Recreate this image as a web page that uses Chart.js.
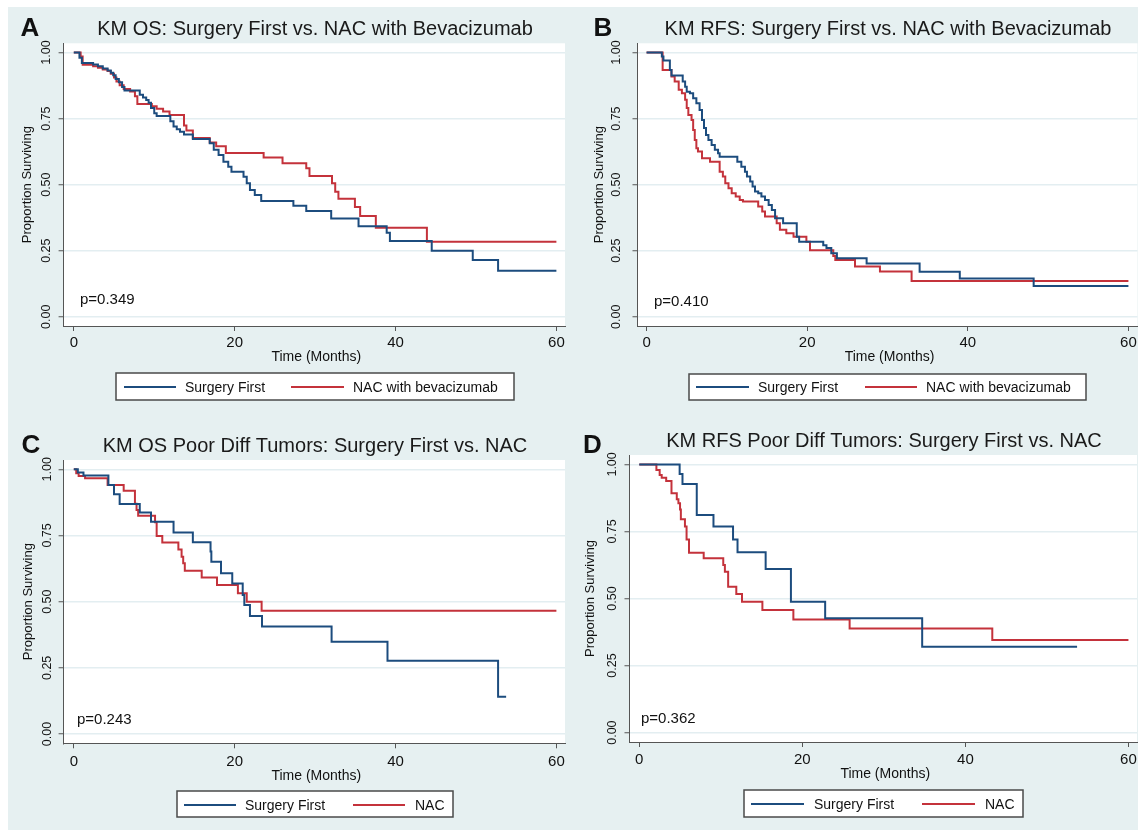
<!DOCTYPE html>
<html>
<head>
<meta charset="utf-8">
<script src="https://cdn.jsdelivr.net/npm/chart.js@4.4.1/dist/chart.umd.min.js"></script>
<style>
  html, body { margin: 0; padding: 0; background: #fff; }
  #fig { position: relative; width: 1142px; height: 830px; overflow: hidden; }
  #bg { position: absolute; left: 8px; top: 7px; width: 1130px; height: 823px; background: #e6f0f1; }
  canvas { position: absolute; }
</style>
</head>
<body>
<div id="fig"><div id="bg"></div></div>
<script>
// ---- data (time in months, proportion surviving) ----
const xTicks = [0, 20, 40, 60];
const yTicks = [0, 0.25, 0.5, 0.75, 1];
const yTickLabels = ['0.00', '0.25', '0.50', '0.75', '1.00'];

const titles = [
  'KM OS: Surgery First vs. NAC with Bevacizumab',
  'KM RFS: Surgery First vs. NAC with Bevacizumab',
  'KM OS Poor Diff Tumors: Surgery First vs. NAC',
  'KM RFS Poor Diff Tumors: Surgery First vs. NAC'
];
const letters = ['A', 'B', 'C', 'D'];
const pValues = ['p=0.349', 'p=0.410', 'p=0.243', 'p=0.362'];
const legendBev = ['Surgery First', 'NAC with bevacizumab'];
const legendNac = ['Surgery First', 'NAC'];

// A: overall survival, bevacizumab cohort
const osSfT = [0, 0.7, 1.0, 2.4, 3.0, 3.6, 4.2, 4.6, 4.9, 5.2, 5.6, 6.0, 6.3, 8.2, 8.6, 9.0, 9.3, 9.6, 10.0, 10.3, 12.0, 12.4, 12.8, 13.2, 13.7, 14.8, 16.9, 17.4, 18.0, 18.6, 19.2, 19.6, 21.1, 21.5, 21.9, 22.5, 23.3, 27.3, 28.9, 32.0, 35.4, 38.9, 39.3, 44.5, 49.6, 52.75, 60];
const osSfS = [1, 0.98, 0.96, 0.955, 0.948, 0.94, 0.932, 0.924, 0.914, 0.90, 0.888, 0.87, 0.856, 0.84, 0.83, 0.82, 0.81, 0.79, 0.77, 0.76, 0.74, 0.72, 0.71, 0.70, 0.69, 0.673, 0.657, 0.632, 0.612, 0.587, 0.568, 0.549, 0.53, 0.505, 0.48, 0.461, 0.438, 0.42, 0.40, 0.372, 0.343, 0.318, 0.287, 0.25, 0.215, 0.174, 0.174];
const osNacT = [0, 0.85, 1.1, 2.4, 3.0, 3.6, 4.2, 4.6, 5.0, 5.3, 5.7, 6.2, 7.0, 7.6, 7.9, 9.7, 10.3, 11.1, 11.9, 13.7, 14.0, 14.8, 16.9, 17.7, 18.9, 23.6, 25.95, 28.9, 29.3, 32.1, 32.5, 32.9, 34.95, 35.6, 37.55, 43.9, 60];
const osNacS = [1, 0.985, 0.954, 0.948, 0.942, 0.936, 0.93, 0.92, 0.906, 0.89, 0.876, 0.862, 0.853, 0.835, 0.805, 0.797, 0.787, 0.777, 0.764, 0.724, 0.705, 0.677, 0.66, 0.645, 0.62, 0.603, 0.581, 0.562, 0.533, 0.505, 0.473, 0.447, 0.415, 0.381, 0.337, 0.284, 0.284];

// B: recurrence-free survival, bevacizumab cohort
const rfsSfT = [0, 1.9, 2.1, 2.9, 3.1, 4.5, 4.8, 5.0, 5.4, 5.8, 6.2, 6.6, 6.9, 7.15, 7.4, 7.7, 8.1, 8.5, 8.9, 9.1, 11.3, 11.8, 12.25, 12.5, 12.9, 13.2, 13.5, 13.9, 14.3, 14.75, 15.2, 15.6, 16.0, 17.0, 18.7, 19.0, 22.0, 22.4, 23.0, 23.7, 27.4, 34.0, 39.0, 48.2, 60];
const rfsSfS = [1, 0.985, 0.97, 0.934, 0.913, 0.89, 0.871, 0.852, 0.846, 0.827, 0.808, 0.783, 0.745, 0.714, 0.688, 0.669, 0.65, 0.632, 0.619, 0.606, 0.587, 0.568, 0.549, 0.531, 0.512, 0.493, 0.474, 0.467, 0.455, 0.442, 0.423, 0.404, 0.373, 0.354, 0.303, 0.284, 0.271, 0.26, 0.24, 0.221, 0.202, 0.17, 0.145, 0.116, 0.116];
const rfsNacT = [0, 2.0, 3.1, 3.5, 4.0, 4.4, 4.8, 5.0, 5.2, 5.6, 5.8, 6.0, 6.2, 6.4, 6.9, 7.9, 9.1, 9.5, 9.8, 10.2, 10.6, 11.1, 11.6, 12.0, 13.9, 14.4, 14.75, 16.2, 16.6, 17.4, 18.3, 19.9, 20.35, 23.25, 23.5, 25.95, 29.06, 33.0, 60];
const rfsNacS = [1, 0.934, 0.909, 0.89, 0.859, 0.846, 0.821, 0.79, 0.764, 0.745, 0.707, 0.669, 0.638, 0.625, 0.60, 0.587, 0.549, 0.531, 0.505, 0.486, 0.467, 0.455, 0.442, 0.436, 0.417, 0.398, 0.379, 0.354, 0.329, 0.316, 0.303, 0.284, 0.252, 0.23, 0.215, 0.19, 0.171, 0.135, 0.135];

// C: overall survival, poorly differentiated tumors
const pdOsSfT = [0, 0.5, 1.2, 4.3, 5.0, 5.7, 8.2, 9.6, 12.4, 14.8, 17.0, 17.1, 18.3, 19.7, 21.0, 21.2, 21.9, 23.4, 32.05, 39.0, 52.75, 53.75];
const pdOsSfS = [1, 0.988, 0.976, 0.941, 0.906, 0.869, 0.837, 0.802, 0.761, 0.724, 0.689, 0.651, 0.607, 0.569, 0.525, 0.487, 0.446, 0.406, 0.349, 0.277, 0.141, 0.141];
const pdOsNacT = [0, 0.3, 0.6, 1.4, 4.2, 6.2, 7.6, 7.8, 8.0, 10.1, 10.3, 11.0, 13.0, 13.4, 13.6, 13.8, 15.9, 17.8, 20.4, 21.5, 23.35, 60];
const pdOsNacS = [1, 0.985, 0.975, 0.966, 0.941, 0.919, 0.87, 0.846, 0.824, 0.80, 0.748, 0.723, 0.697, 0.67, 0.645, 0.617, 0.591, 0.563, 0.532, 0.5, 0.466, 0.466];

// D: recurrence-free survival, poorly differentiated tumors
const pdRfsSfT = [0, 4.95, 5.3, 7.05, 9.1, 11.5, 12.05, 15.5, 18.6, 22.8, 34.7, 53.7];
const pdRfsSfS = [1, 0.964, 0.927, 0.811, 0.768, 0.72, 0.672, 0.61, 0.488, 0.426, 0.32, 0.32];
const pdRfsNacT = [0, 2.1, 2.5, 2.75, 3.3, 3.95, 4.6, 4.8, 5.0, 5.1, 5.6, 5.8, 6.1, 7.9, 10.3, 10.5, 10.9, 11.9, 12.6, 15.1, 18.9, 25.8, 43.3, 60];
const pdRfsNacS = [1, 0.979, 0.96, 0.95, 0.938, 0.892, 0.87, 0.855, 0.832, 0.795, 0.768, 0.72, 0.671, 0.65, 0.625, 0.60, 0.544, 0.517, 0.488, 0.457, 0.422, 0.388, 0.345, 0.345];

// ---- styling / layout ----
const BLUE = '#1c4c7e';
const RED = '#c4323b';
const FONT = '"Liberation Sans", Arial, Helvetica, sans-serif';
const X_AXIS_H = 20;

function pts(t, s) {
  return t.map((v, i) => ({ x: v, y: s[i] }));
}

// box = canvas rect on page, plot = white plot region (left, top, right, bottom) on page
const panels = [
  { box: [8, 7, 562, 403], plot: [63.6, 43.3, 565, 326], xmin: -1.27, xmax: 61.07,
    letterPos: [20.5, 29], titlePos: [315, 29], yTickX: 47, yTitleX: 27, xTickY: 343, xTitleY: 357,
    pPos: [80, 300], legendBox: [116, 373, 398, 27], legendY: 387,
    blueLine: [124, 176], blueText: 185, redLine: [291, 344], redText: 353,
    names: legendBev, series: [[osSfT, osSfS], [osNacT, osNacS]] },
  { box: [570, 7, 568, 403], plot: [637.5, 43.3, 1137.5, 326], xmin: -1.13, xmax: 61.13,
    letterPos: [593.5, 29], titlePos: [888, 29], yTickX: 616.5, yTitleX: 599, xTickY: 343, xTitleY: 357,
    pPos: [654, 302], legendBox: [689, 374, 397, 26], legendY: 387,
    blueLine: [696, 749], blueText: 758, redLine: [865, 917], redText: 926,
    names: legendBev, series: [[rfsSfT, rfsSfS], [rfsNacT, rfsNacS]] },
  { box: [8, 410, 562, 420], plot: [63.6, 460, 565, 743.3], xmin: -1.27, xmax: 61.07,
    letterPos: [21.5, 446], titlePos: [315, 446], yTickX: 48, yTitleX: 28, xTickY: 762, xTitleY: 776,
    pPos: [77, 720], legendBox: [177, 791, 276, 26], legendY: 805,
    blueLine: [184, 236], blueText: 245, redLine: [353, 405], redText: 415,
    names: legendNac, series: [[pdOsSfT, pdOsSfS], [pdOsNacT, pdOsNacS]] },
  { box: [570, 410, 568, 420], plot: [629.5, 455, 1137, 742], xmin: -1.2, xmax: 61.05,
    letterPos: [583, 446], titlePos: [884, 441], yTickX: 613, yTitleX: 590, xTickY: 760, xTitleY: 774,
    pPos: [641, 719], legendBox: [744, 790, 279, 27], legendY: 804,
    blueLine: [751, 804], blueText: 814, redLine: [922, 975], redText: 985,
    names: legendNac, series: [[pdRfsSfT, pdRfsSfS], [pdRfsNacT, pdRfsNacS]] }
];

const panelDecor = {
  id: 'panelDecor',
  beforeDraw(chart) {
    const a = chart.chartArea;
    const ctx = chart.ctx;
    ctx.save();
    ctx.fillStyle = '#ffffff';
    ctx.fillRect(a.left, a.top, a.right - a.left, a.bottom - a.top);
    ctx.restore();
  },
  afterDraw(chart, args, p) {
    const ctx = chart.ctx;
    const ox = p.box[0], oy = p.box[1];
    const xs = chart.scales.x, ys = chart.scales.y;
    ctx.save();
    ctx.fillStyle = '#111';

    // panel letter
    ctx.font = 'bold 26px ' + FONT;
    ctx.textAlign = 'left';
    ctx.textBaseline = 'middle';
    ctx.fillText(p.letter, p.letterPos[0] - ox, p.letterPos[1] - oy);

    // title
    ctx.font = '20px ' + FONT;
    ctx.textAlign = 'center';
    ctx.fillStyle = '#1a1a1a';
    ctx.fillText(p.title, p.titlePos[0] - ox, p.titlePos[1] - oy);

    // x tick labels and title
    ctx.fillStyle = '#111';
    ctx.font = '15px ' + FONT;
    xTicks.forEach(v => {
      ctx.fillText(String(v), xs.getPixelForValue(v), p.xTickY - oy);
    });
    ctx.font = '14px ' + FONT;
    ctx.fillText('Time (Months)', (p.plot[0] + p.plot[2]) / 2 - ox + 2, p.xTitleY - oy);

    // y tick labels (rotated, Stata style)
    ctx.font = '12.5px ' + FONT;
    yTicks.forEach((v, i) => {
      ctx.save();
      ctx.translate(p.yTickX - ox, ys.getPixelForValue(v));
      ctx.rotate(-Math.PI / 2);
      ctx.fillText(yTickLabels[i], 0, 0);
      ctx.restore();
    });
    ctx.save();
    ctx.font = '13px ' + FONT;
    ctx.translate(p.yTitleX - ox, (ys.getPixelForValue(0) + ys.getPixelForValue(1)) / 2);
    ctx.rotate(-Math.PI / 2);
    ctx.fillText('Proportion Surviving', 0, 0);
    ctx.restore();

    // p-value
    ctx.font = '15px ' + FONT;
    ctx.textAlign = 'left';
    ctx.fillText(p.pText, p.pPos[0] - ox, p.pPos[1] - oy);

    // legend box
    const lb = p.legendBox;
    ctx.fillStyle = '#ffffff';
    ctx.fillRect(lb[0] - ox, lb[1] - oy, lb[2], lb[3]);
    ctx.strokeStyle = '#4a4a4a';
    ctx.lineWidth = 1.5;
    ctx.strokeRect(lb[0] - ox, lb[1] - oy, lb[2], lb[3]);
    const ly = p.legendY - oy;
    ctx.lineWidth = 2;
    ctx.strokeStyle = BLUE;
    ctx.beginPath();
    ctx.moveTo(p.blueLine[0] - ox, ly);
    ctx.lineTo(p.blueLine[1] - ox, ly);
    ctx.stroke();
    ctx.strokeStyle = RED;
    ctx.beginPath();
    ctx.moveTo(p.redLine[0] - ox, ly);
    ctx.lineTo(p.redLine[1] - ox, ly);
    ctx.stroke();
    ctx.fillStyle = '#111';
    ctx.font = '14px ' + FONT;
    ctx.fillText(p.names[0], p.blueText - ox, ly + 1);
    ctx.fillText(p.names[1], p.redText - ox, ly + 1);
    ctx.restore();
  }
};

const fig = document.getElementById('fig');

panels.forEach((p, k) => {
  p.letter = letters[k];
  p.title = titles[k];
  p.pText = pValues[k];

  const cv = document.createElement('canvas');
  cv.width = p.box[2];
  cv.height = p.box[3];
  cv.style.left = p.box[0] + 'px';
  cv.style.top = p.box[1] + 'px';
  fig.appendChild(cv);

  const colors = [BLUE, RED];
  new Chart(cv.getContext('2d'), {
    type: 'line',
    data: {
      datasets: p.series.map((s, i) => ({
        data: pts(s[0], s[1]),
        borderColor: colors[i],
        borderWidth: 2,
        stepped: 'before',
        pointRadius: 0,
        fill: false
      }))
    },
    options: {
      responsive: false,
      animation: false,
      events: [],
      layout: {
        padding: {
          left: 0,
          top: p.plot[1] - p.box[1],
          right: p.box[0] + p.box[2] - p.plot[2],
          bottom: p.box[1] + p.box[3] - p.plot[3] - X_AXIS_H
        }
      },
      plugins: {
        legend: { display: false },
        tooltip: { enabled: false },
        panelDecor: p
      },
      scales: {
        x: {
          type: 'linear',
          min: p.xmin,
          max: p.xmax,
          afterBuildTicks: axis => { axis.ticks = xTicks.map(v => ({ value: v })); },
          afterFit: axis => { axis.height = X_AXIS_H; },
          ticks: { display: false },
          grid: { display: true, drawOnChartArea: false, drawTicks: true, tickLength: 5, tickColor: '#555', tickWidth: 1 },
          border: { display: true, color: '#555', width: 1 }
        },
        y: {
          type: 'linear',
          min: -0.035,
          max: 1.035,
          afterBuildTicks: axis => { axis.ticks = yTicks.map(v => ({ value: v })); },
          afterFit: axis => { axis.width = p.plot[0] - p.box[0]; },
          ticks: { display: false },
          grid: { display: true, drawOnChartArea: true, color: '#e3eef1', lineWidth: 1.5, drawTicks: true, tickLength: 5, tickColor: '#555', tickWidth: 1 },
          border: { display: true, color: '#555', width: 1 }
        }
      }
    },
    plugins: [panelDecor]
  });
});
</script>
</body>
</html>
